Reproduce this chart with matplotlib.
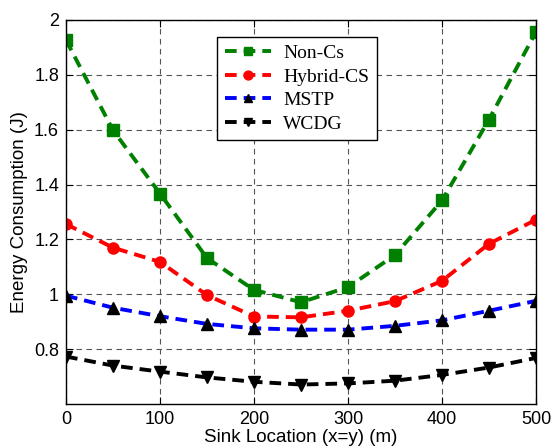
import numpy as np
import matplotlib.pyplot as plt

x = [0, 50, 100, 150, 200, 250, 300, 350, 400, 450, 500]
non_cs = [1.927, 1.598, 1.367, 1.132, 1.016, 0.971, 1.026, 1.143, 1.342, 1.637, 1.957]
hybrid_cs = [1.256, 1.170, 1.118, 0.997, 0.919, 0.916, 0.940, 0.975, 1.049, 1.184, 1.272]
mstp = [0.995, 0.951, 0.920, 0.892, 0.876, 0.871, 0.871, 0.885, 0.905, 0.940, 0.976]
wcdg = [0.773, 0.740, 0.718, 0.697, 0.681, 0.671, 0.675, 0.685, 0.706, 0.733, 0.768]

plt.rcParams['font.family'] = ['Liberation Sans', 'DejaVu Sans']

fig = plt.figure(figsize=(5.53, 4.46), dpi=100)
ax = fig.add_axes([66/553, 1-404/446, 470/553, 384/446])

style = dict(lw=2.8, ms=8, dashes=(3, 1.8))
ax.plot(x, non_cs, color='green', marker='s', mfc='green', mec='green', label='Non-Cs', **style)
ax.plot(x, hybrid_cs, color='red', marker='o', mfc='red', mec='red', label='Hybrid-CS', **style)
ax.plot(x, mstp, color='blue', marker='^', mfc='black', mec='black', label='MSTP', **style)
ax.plot(x, wcdg, color='black', marker='v', mfc='black', mec='black', label='WCDG', **style)

ax.set_xlim(0, 500)
ax.set_ylim(0.6, 2)
ax.set_xticks([0, 100, 200, 300, 400, 500])
ax.set_yticks([0.8, 1.0, 1.2, 1.4, 1.6, 1.8, 2.0])
ax.set_yticklabels(['0.8', '1', '1.2', '1.4', '1.6', '1.8', '2'])
ax.tick_params(direction='in', labelsize=13, length=5, top=True, right=True, pad=5)
ax.grid(True, color='#555555', ls=(0, (5, 4)), lw=0.8)
for s in ax.spines.values():
    s.set_linewidth(1.0)

ax.set_xlabel('Sink Location (x=y) (m)', fontsize=13.5, labelpad=1)
ax.set_ylabel('Energy Consumption (J)', fontsize=13.5, labelpad=4)

leg = ax.legend(loc='upper left', bbox_to_anchor=(0.321, 0.956), fancybox=False,
                edgecolor='black', framealpha=1, borderaxespad=0,
                prop={'family': 'Liberation Serif', 'size': 14},
                handlelength=2.4, labelspacing=0.3, borderpad=0.4, handletextpad=0.6,
                markerscale=0.8)
leg.get_frame().set_linewidth(1.0)

fig.savefig('out.png', dpi=100)
